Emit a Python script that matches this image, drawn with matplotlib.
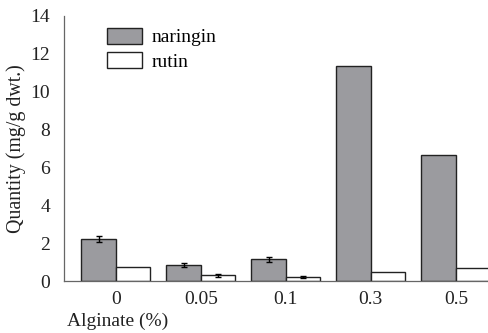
import numpy as np
import matplotlib.pyplot as plt

plt.rcParams['font.family'] = ['Liberation Serif', 'DejaVu Serif']

# data
concentrations = ['0', '0.05', '0.1', '0.3', '0.5']
naringin = [2.22, 0.84, 1.16, 11.38, 6.66]
naringin_err = [0.15, 0.10, 0.13, 0, 0]
rutin = [0.74, 0.30, 0.19, 0.46, 0.67]
rutin_err = [0, 0.07, 0.05, 0, 0]

x = np.arange(len(concentrations))
w = 0.405

fig = plt.figure(figsize=(4.89, 3.33), dpi=100)
ax = fig.add_axes([64/489, 1 - 281/333, 1 - 64/489, (281 - 16)/333])

ax.bar(x - w/2, naringin, w, color='#9b9b9f', edgecolor='#222222', linewidth=1.0,
       label='naringin')
ax.bar(x + w/2, rutin, w, color='white', edgecolor='#222222', linewidth=1.0,
       label='rutin')

# error bars only where the picture shows them
for pos, vals, errs in [(x - w/2, naringin, naringin_err), (x + w/2, rutin, rutin_err)]:
    m = np.array(errs) > 0
    ax.errorbar(pos[m], np.array(vals)[m], yerr=np.array(errs)[m], fmt='none',
                ecolor='black', elinewidth=1.0, capsize=2.5, capthick=1.0)

ax.set_xlim(-0.61, 4.39)
ax.set_ylim(0, 14)
ax.set_yticks(range(0, 15, 2))
ax.set_xticks(x)
ax.set_xticklabels(concentrations)
ax.tick_params(length=0, labelsize=14, colors='#222222', pad=7)
ax.tick_params(axis='y', pad=10)

for s in ['top', 'right']:
    ax.spines[s].set_visible(False)
for s in ['left', 'bottom']:
    ax.spines[s].set_color('#666666')
    ax.spines[s].set_linewidth(0.9)

ax.set_ylabel('Quantity (mg/g dwt.)', fontsize=14.3, color='#222222', labelpad=3)
fig.text(67/489, 1 - 321/333, 'Alginate (%)', fontsize=14, color='#222222',
         ha='left', va='center')

leg = ax.legend(loc='upper left', bbox_to_anchor=((107 - 64)/425, (281 - 28)/265),
                frameon=False, borderpad=0, borderaxespad=0,
                fontsize=14, handlelength=1.8, handleheight=0.85,
                labelspacing=0.3, handletextpad=0.5)

fig.savefig('out.png', dpi=100)
